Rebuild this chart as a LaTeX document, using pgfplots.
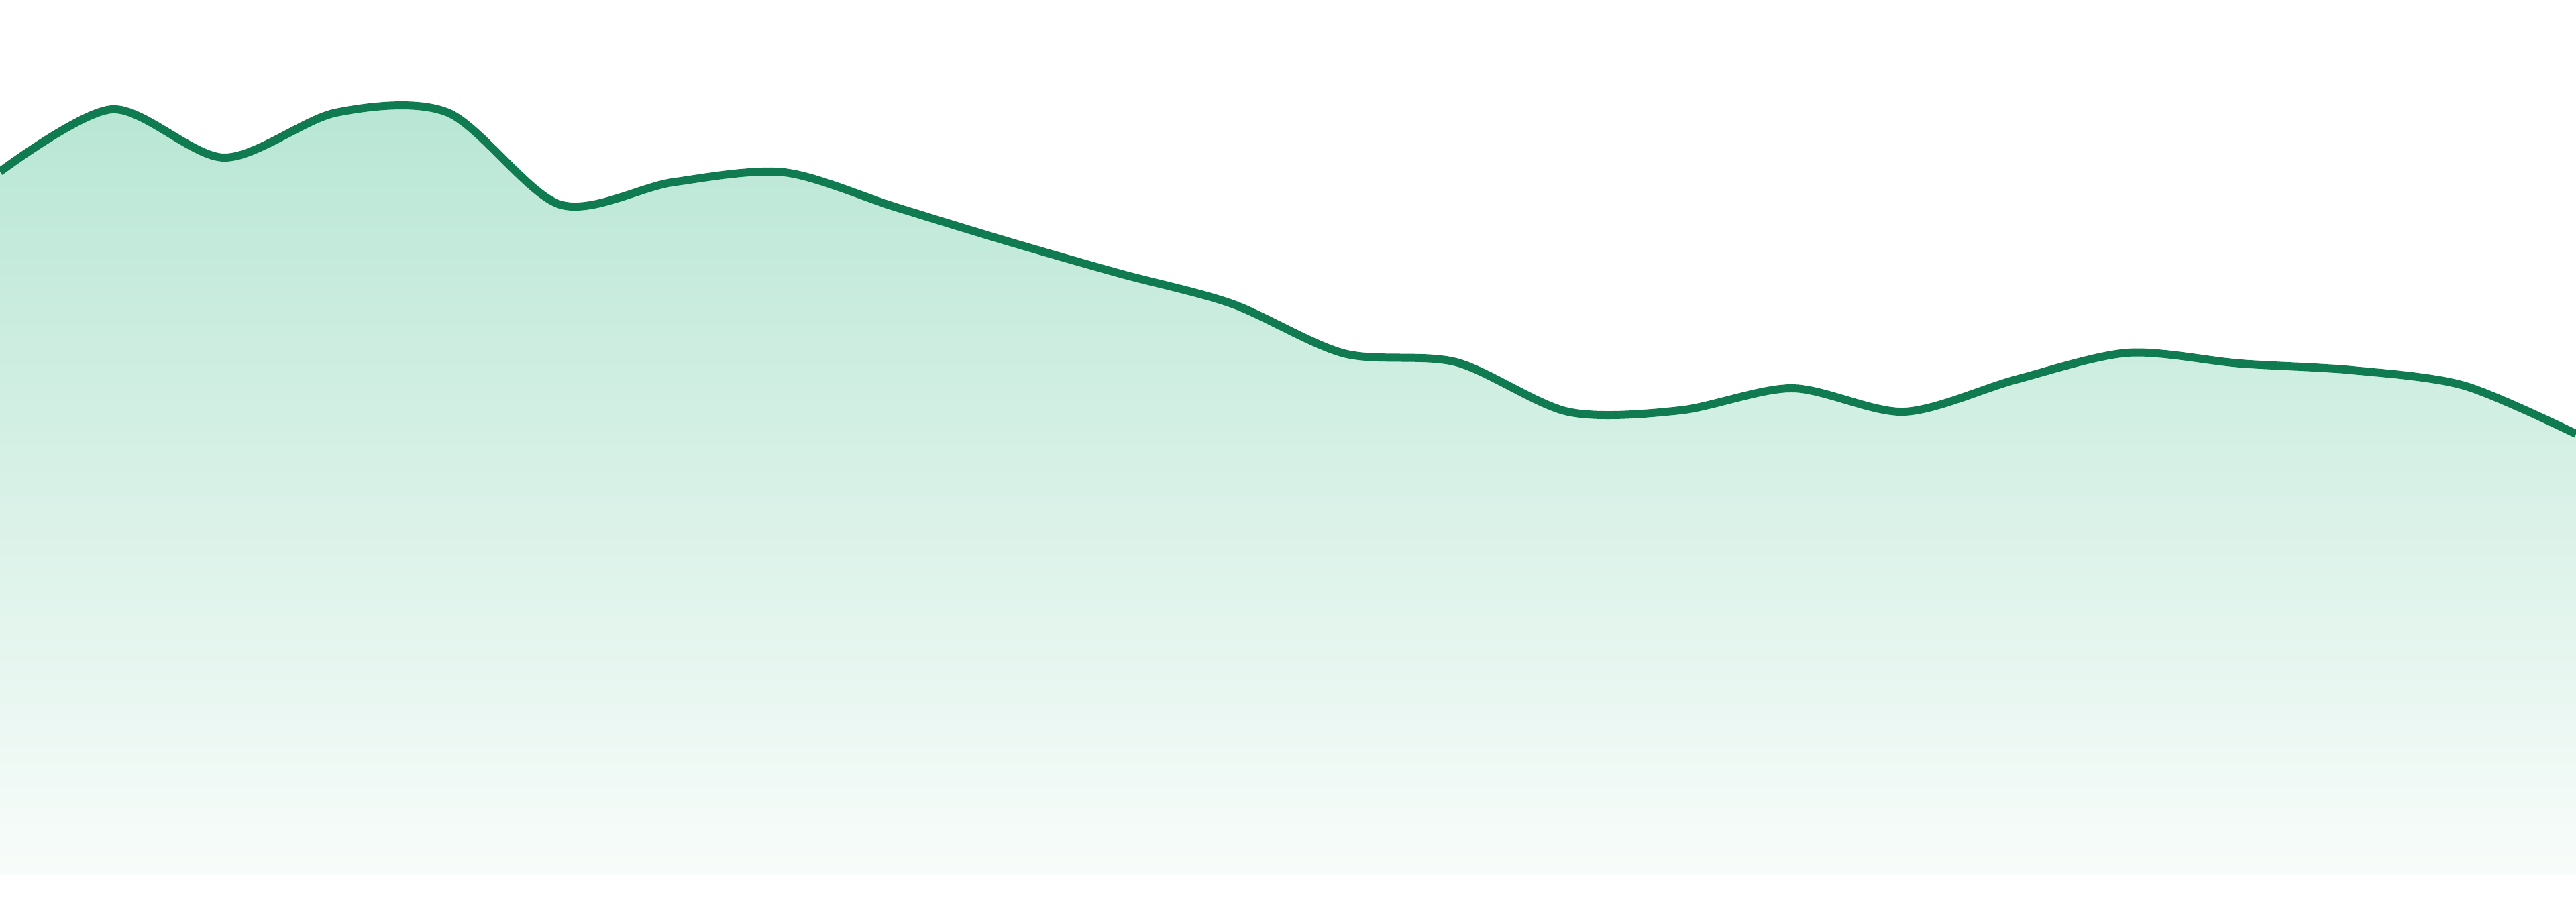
\documentclass[border=0pt]{standalone}
\usepackage{pgfplots}
\pgfplotsset{compat=1.18}

\definecolor{lineGreen}{RGB}{16,122,80}
\definecolor{fillTop}{RGB}{184,230,212}
\definecolor{fillBottom}{RGB}{248,252,250}

% one value per step
\pgfplotstableread{
x  y
0  1049
1  1142
2  1070
3  1137
4  1137
5  1000
6  1033
7  1048
8  996
9  945
10 897
11 852
12 778
13 765
14 691
15 693
16 726
17 691
18 739
19 779
20 763
21 753
22 730
23 658
}\series

\begin{document}
\begin{tikzpicture}
\begin{axis}[
    name=ax,
    hide axis,
    scale only axis,
    width=16cm,
    height=5.6cm,
    xmin=0, xmax=23,
    ymin=-39, ymax=1305,
]
% gradient area under the line
\addplot[draw=none, top color=fillTop, bottom color=fillBottom,
    smooth, tension=0.5] table[x=x, y=y] {\series} \closedcycle;
% the line itself
\addplot[lineGreen, line width=1.42pt, smooth, tension=0.5]
    table[x=x, y=y] {\series};
\end{axis}
\pgfresetboundingbox
\path[use as bounding box] (ax.south west) rectangle (ax.north east);
\end{tikzpicture}
\end{document}
